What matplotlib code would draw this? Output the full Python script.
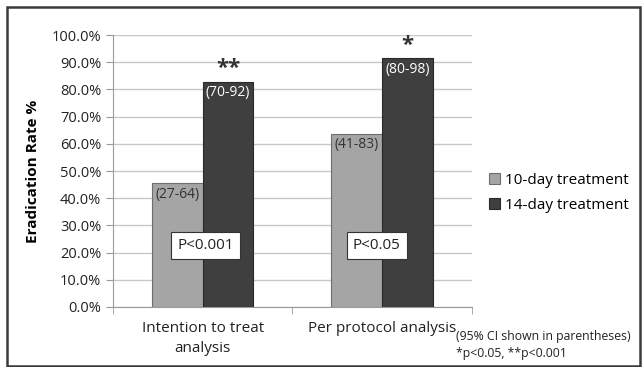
import matplotlib.pyplot as plt
from matplotlib.patches import Rectangle
from matplotlib.ticker import PercentFormatter

plt.rcParams['font.family'] = ['Open Sans', 'DejaVu Sans']

categories = ["Intention to treat\nanalysis", "Per protocol analysis"]
series = ["10-day treatment", "14-day treatment"]
rate_10 = [0.455, 0.636]
rate_14 = [0.828, 0.914]
ci_10 = ["(27-64)", "(41-83)"]
ci_14 = ["(70-92)", "(80-98)"]
stars = ["**", "*"]
pvals = ["P<0.001", "P<0.05"]

fig = plt.figure(figsize=(6.42, 3.67), dpi=100)
ax = fig.add_axes([0.176, 0.1635, 0.559, 0.741])

x = range(len(categories))
w = 0.283
x10 = [i - w / 2 for i in x]
x14 = [i + w / 2 for i in x]
ax.bar(x10, rate_10, w, color='#a5a5a5', edgecolor='#6e6e6e', linewidth=0.8,
       label=series[0], zorder=3)
ax.bar(x14, rate_14, w, color='#3f3f3f', edgecolor='#2a2a2a', linewidth=0.8,
       label=series[1], zorder=3)

p_shift = [0.015, -0.03]
for i in x:
    ax.text(x10[i], rate_10[i] - 0.012, ci_10[i], ha='center', va='top',
            fontsize=10, color='#333333', zorder=4)
    ax.text(x14[i], rate_14[i] - 0.012, ci_14[i], ha='center', va='top',
            fontsize=10, color='white', zorder=4)
    ax.text(x14[i], rate_14[i] + 0.01, stars[i], ha='center', va='bottom',
            fontsize=16, fontweight='bold', color='#333333', zorder=4)
    ax.text(i + p_shift[i], 0.225, pvals[i], ha='center', va='center', fontsize=11,
            color='#222222', zorder=5,
            bbox=dict(boxstyle='square,pad=0.4', fc='white', ec='#333333', lw=0.8))

ax.set_xlim(-0.5, 1.5)
ax.set_ylim(0, 1.0)
ax.set_yticks([i / 10 for i in range(11)])
ax.yaxis.set_major_formatter(PercentFormatter(1.0, decimals=1))
ax.set_xticks(list(x))
ax.set_xticklabels(categories, linespacing=1.45)
ax.set_xticks([-0.5, 0.5, 1.5], minor=True)
ax.tick_params(axis='x', which='major', length=0, pad=10, labelsize=11, colors='#222222')
ax.tick_params(axis='x', which='minor', length=5, color='#9a9a9a')
ax.tick_params(axis='y', length=5, color='#9a9a9a', labelsize=10.5, labelcolor='#222222')
ax.grid(axis='y', color='#c8c8c8', linewidth=1, zorder=0)
for s in ['top', 'right']:
    ax.spines[s].set_visible(False)
for s in ['left', 'bottom']:
    ax.spines[s].set_color('#9a9a9a')
ax.set_ylabel('Eradication Rate %', fontsize=11, fontweight='bold', labelpad=8)

fig.legend(loc='center left', bbox_to_anchor=(0.74, 0.474), frameon=False,
           fontsize=11, handlelength=0.7, handleheight=0.7, handletextpad=0.35,
           labelspacing=0.65)

fig.text(0.71, 0.06, "(95% CI shown in parentheses)\n*p<0.05, **p<0.001",
         fontsize=8.8, va='center', ha='left', color='#222222', linespacing=1.45)

fig.patches.append(Rectangle((0.011, 0.003), 0.986, 0.978, transform=fig.transFigure,
                             fill=False, ec='#3a3a3a', lw=1.8))

fig.savefig('out.png', dpi=100)
